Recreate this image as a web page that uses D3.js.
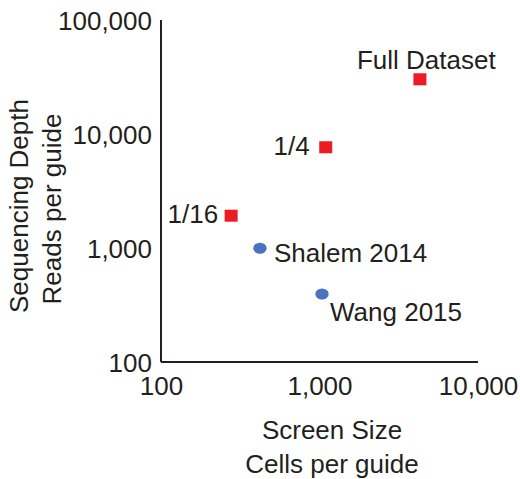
<!DOCTYPE html>
<html>
<head>
<meta charset="utf-8">
<script src="https://cdn.jsdelivr.net/npm/d3@7"></script>
<style>
  body { margin: 0; background: #fff; }
  text { font-family: "Liberation Sans", Arial, Helvetica, sans-serif; fill: #231f20; }
</style>
</head>
<body>
<div id="chart"></div>
<script>
// data
var names = ["Full Dataset", "1/4", "1/16", "Shalem 2014", "Wang 2015"];
var cellsPerGuide = [4300, 1095, 277, 421, 1037];
var readsPerGuide = [30200, 7650, 1920, 995, 395];
var groups = ["subsample", "subsample", "subsample", "published", "published"];
var xTicks = [100, 1000, 10000];
var yTicks = [100, 1000, 10000, 100000];

var w = 520, h = 479;
var fmt = d3.format(",");

var color_hash = { subsample: "#ed1c24", published: "#4a72bf" };

// where each label sits relative to its marker
var labelPos = [
  { dx: -63, dy: -10, anchor: "start" },
  { dx: -16, dy: 8, anchor: "end" },
  { dx: -13, dy: 7, anchor: "end" },
  { dx: 14, dy: 14, anchor: "start" },
  { dx: 8, dy: 27, anchor: "start" }
];

var x = d3.scaleLog().domain([100, 10000]).range([161, 478]);
var y = d3.scaleLog().domain([100, 100000]).range([362, 20]);

var svg = d3.select("#chart")
  .append("svg")
  .attr("width", w)
  .attr("height", h);

// y axis, no tick marks
var yAxis = svg.append("g")
  .attr("transform", "translate(161,0)")
  .call(d3.axisLeft(y).tickValues(yTicks).tickFormat(fmt).tickSize(0).tickPadding(9));

// x axis
var xAxis = svg.append("g")
  .attr("transform", "translate(0,362)")
  .call(d3.axisBottom(x).tickValues(xTicks).tickFormat(fmt).tickSize(0).tickPadding(10));

[yAxis, xAxis].forEach(function(a) {
  a.select(".domain").attr("stroke", "#231f20").attr("stroke-width", 2);
  a.selectAll("text")
    .style("font-size", "26px")
    .attr("fill", "#231f20")
    .style("font-family", "'Liberation Sans', Arial, sans-serif");
});
xAxis.selectAll("text").attr("dy", "0.9em");
yAxis.selectAll("text").attr("dy", "0.35em");

// the two axes meet at the corner, trim the overshoot
yAxis.select(".domain").attr("d", "M0,20V362");
xAxis.select(".domain").attr("d", "M161,0H478");

// axis titles
svg.append("text")
  .attr("x", 332).attr("y", 439)
  .attr("text-anchor", "middle")
  .style("font-size", "26px")
  .text("Screen Size");
svg.append("text")
  .attr("x", 332).attr("y", 473)
  .attr("text-anchor", "middle")
  .style("font-size", "26px")
  .text("Cells per guide");

svg.append("text")
  .attr("transform", "translate(28,206) rotate(-90)")
  .attr("text-anchor", "middle")
  .style("font-size", "26px")
  .text("Sequencing Depth");
svg.append("text")
  .attr("transform", "translate(61,209) rotate(-90)")
  .attr("text-anchor", "middle")
  .style("font-size", "26px")
  .text("Reads per guide");

// points
var pts = svg.append("g").selectAll("g")
  .data(names)
  .enter()
  .append("g")
  .each(function(d, i) {
    var g = d3.select(this);
    var cx = x(cellsPerGuide[i]), cy = y(readsPerGuide[i]);
    if (groups[i] === "subsample") {
      g.append("rect")
        .attr("x", cx - 6.5)
        .attr("y", cy - 6)
        .attr("width", 13)
        .attr("height", 12)
        .style("fill", color_hash[groups[i]]);
    } else {
      g.append("ellipse")
        .attr("cx", cx)
        .attr("cy", cy)
        .attr("rx", 6.7)
        .attr("ry", 5.5)
        .style("fill", color_hash[groups[i]]);
    }
    g.append("text")
      .attr("x", cx + labelPos[i].dx)
      .attr("y", cy + labelPos[i].dy)
      .attr("text-anchor", labelPos[i].anchor)
      .style("font-size", "26px")
      .text(d);
  });
</script>
</body>
</html>
